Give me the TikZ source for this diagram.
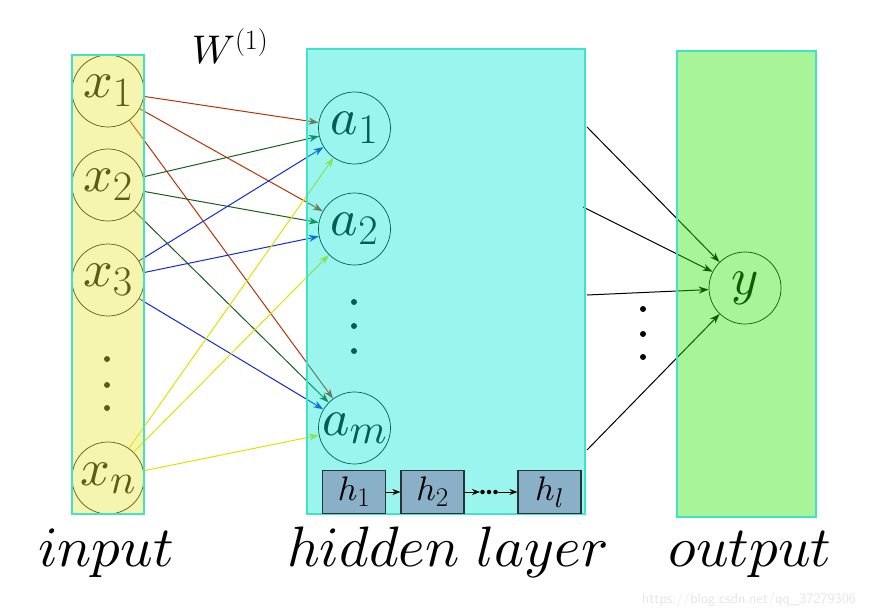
\documentclass[tikz,border=0pt]{standalone}
\usepackage{fix-cm}
\usetikzlibrary{arrows.meta}
\DeclareFontShape{OML}{cmm}{m}{it}{<->cmmi10}{}
\DeclareMathSizes{52}{52}{42}{34}
\DeclareMathSizes{34}{34}{27}{22}
\DeclareMathSizes{40}{40}{28}{22}
\definecolor{yfill}{RGB}{230,230,57}
\definecolor{cfill}{RGB}{2,230,212}
\definecolor{gfill}{RGB}{37,230,0}
\definecolor{rborder}{RGB}{64,226,200}
\definecolor{cone}{RGB}{178,52,8}
\definecolor{ctwo}{RGB}{25,95,25}
\definecolor{cthree}{RGB}{20,40,215}
\definecolor{cfour}{RGB}{225,225,0}
\definecolor{hbox}{RGB}{138,176,200}
\definecolor{hdraw}{RGB}{40,50,55}
\tikzset{
  neuron/.style={circle, draw=black, line width=0.7pt, minimum size=72pt, inner sep=0pt,
    font=\fontsize{52}{58}\selectfont},
  layerbox/.style={draw=rborder, line width=1.5pt, fill opacity=0.4},
  edge/.style={line width=1pt, -{Stealth[length=10pt,width=7pt]}},
  hnode/.style={draw=hdraw, fill=hbox, line width=1.2pt, minimum width=63pt, minimum height=43pt,
    inner sep=0pt, font=\fontsize{34}{38}\selectfont},
  dotmark/.style={circle, fill=black, inner sep=0pt, minimum size=6pt},
  smalldot/.style={circle, fill=black, inner sep=0pt, minimum size=4.5pt},
  caption/.style={font=\fontsize{57}{62}\selectfont, anchor=base},
}
\begin{document}
\begin{tikzpicture}[x=1pt,y=-1pt]
\useasboundingbox (0,0) rectangle (882,615);
% input nodes
\node[neuron] (x1) at (108,91) {$x_1$};
\node[neuron] (x2) at (108,185) {$x_2$};
\node[neuron] (x3) at (108,280) {$x_3$};
\node[neuron] (xn) at (108,478) {$x_n$};
\node[dotmark] (xd1) at (107,359) {};
\node[dotmark] (xd2) at (107,385) {};
\node[dotmark] (xd3) at (107,408) {};
% hidden nodes
\node[neuron] (a1) at (354.5,128) {$a_1$};
\node[neuron] (a2) at (354.5,229) {$a_2$};
\node[neuron] (am) at (354.5,428) {$a_m$};
\node[dotmark] (ad1) at (354,302) {};
\node[dotmark] (ad2) at (354,326) {};
\node[dotmark] (ad3) at (354,351) {};
% output node
\node[neuron] (y) at (745,288) {$y$};
\node[dotmark] (yd1) at (643,309) {};
\node[dotmark] (yd2) at (643,334) {};
\node[dotmark] (yd3) at (643,357) {};
% weights
\foreach \t in {a1,a2,am} \draw[edge, cone] (x1) -- (\t);
\foreach \t in {a1,a2,am} \draw[edge, ctwo] (x2) -- (\t);
\foreach \t in {a1,a2,am} \draw[edge, cthree] (x3) -- (\t);
\foreach \t in {a1,a2,am} \draw[edge, cfour] (xn) -- (\t);
% hidden -> output
\coordinate (o1) at (587,127);
\coordinate (o2) at (583,207);
\coordinate (o3) at (587,295);
\coordinate (o4) at (587,450);
\foreach \s in {o1,o2,o3,o4} \draw[edge, black] (\s) -- (y);
% layer boxes (translucent overlay)
\draw[layerbox, fill=yfill] (72,55) rectangle (144,514);
\draw[layerbox, fill=cfill] (307,49) rectangle (585,514);
\draw[layerbox, fill=gfill] (677,51) rectangle (816,517);
% recurrent chain
\node[hnode] (h1) at (354,492) {$h_1$};
\node[hnode] (h2) at (432.5,492) {$h_2$};
\node[hnode] (hl) at (549.5,492) {$h_l$};
\node[smalldot] (hd1) at (482.5,492) {};
\node[smalldot] (hd2) at (489,492) {};
\node[smalldot] (hd3) at (495.5,492) {};
\draw[line width=1pt, -{Stealth[length=8pt,width=6pt]}] (h1) -- (h2);
\draw[line width=1pt, -{Stealth[length=8pt,width=6pt]}] (h2) -- (hd1);
\draw[line width=1pt, -{Stealth[length=8pt,width=6pt]}] (hd3) -- (hl);
% labels
\node[font=\fontsize{40}{44}\selectfont, anchor=base] (w) at (230,64) {$W^{(1)}$};
\node[caption] (lin) at (106,566) {$input$};
\node[caption] (lhid) at (448,566) {$hidden\ layer$};
\node[caption] (lout) at (750,566) {$output$};
\node[font=\sffamily\fontsize{14.5}{16}\selectfont, text=black!10, anchor=base] (wm) at (749,603) {https://blog.csdn.net/qq\_37279306};
\end{tikzpicture}
\end{document}
